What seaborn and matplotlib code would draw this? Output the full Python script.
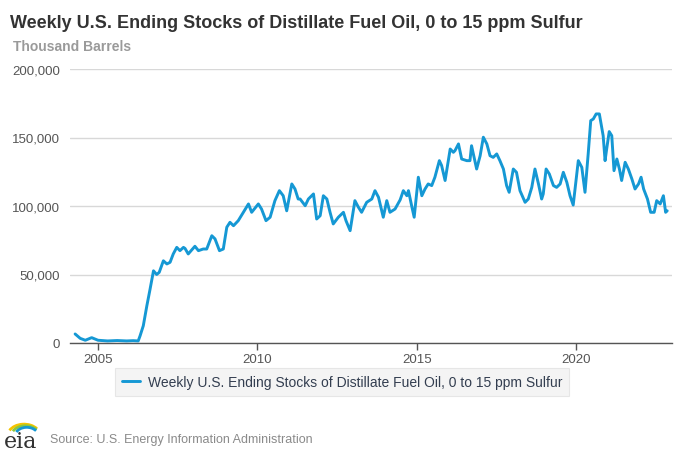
import numpy as np
import pandas as pd
import matplotlib
matplotlib.use("Agg")
import matplotlib.pyplot as plt
import seaborn as sns
from matplotlib.patches import Arc

# values (decimal year, thousand barrels)
years = [2004.28, 2004.44, 2004.60, 2004.80, 2005.00, 2005.30, 2005.60, 2005.90, 2006.10,
         2006.26, 2006.32, 2006.42, 2006.53, 2006.63, 2006.74, 2006.84, 2006.92,
         2007.05, 2007.16, 2007.26, 2007.36, 2007.47, 2007.57, 2007.68, 2007.73, 2007.83,
         2008.04, 2008.15, 2008.30, 2008.41, 2008.57, 2008.67, 2008.81, 2008.93,
         2009.04, 2009.14, 2009.25, 2009.40, 2009.56, 2009.72, 2009.82,
         2010.03, 2010.13, 2010.27, 2010.40, 2010.55, 2010.69, 2010.81, 2010.92,
         2011.08, 2011.18, 2011.28, 2011.34, 2011.50, 2011.60, 2011.76, 2011.86, 2011.97,
         2012.07, 2012.18, 2012.28, 2012.38, 2012.54, 2012.70, 2012.78, 2012.91,
         2013.06, 2013.17, 2013.27, 2013.43, 2013.59, 2013.69, 2013.80, 2013.95,
         2014.06, 2014.16, 2014.32, 2014.48, 2014.58, 2014.69, 2014.74, 2014.84, 2014.92,
         2015.05, 2015.16, 2015.26, 2015.36, 2015.47, 2015.57, 2015.71, 2015.78, 2015.89,
         2016.05, 2016.15, 2016.20, 2016.31, 2016.41, 2016.57, 2016.67, 2016.72, 2016.88, 2016.99,
         2017.09, 2017.20, 2017.30, 2017.40, 2017.51, 2017.61, 2017.72, 2017.82, 2017.90,
         2018.03, 2018.13, 2018.24, 2018.40, 2018.50, 2018.61, 2018.71, 2018.82, 2018.92, 2018.97,
         2019.06, 2019.16, 2019.29, 2019.39, 2019.50, 2019.60, 2019.71, 2019.81, 2019.91,
         2020.07, 2020.18, 2020.28, 2020.38, 2020.46, 2020.54, 2020.63, 2020.73, 2020.85,
         2020.91, 2020.96, 2021.04, 2021.12, 2021.19, 2021.28, 2021.36, 2021.43, 2021.54,
         2021.64, 2021.75, 2021.85, 2021.96, 2022.04, 2022.12, 2022.24, 2022.34, 2022.45,
         2022.53, 2022.64, 2022.74, 2022.81, 2022.86]
stocks = [6600, 3400, 2000, 3900, 2000, 1500, 1800, 1500, 1700,
          1500, 5300, 12600, 27000, 39000, 52700, 50000, 51600,
          60000, 57700, 58900, 65000, 69800, 67400, 69800, 69000, 65000,
          70600, 67400, 68600, 68600, 78300, 76000, 67400, 68600,
          84500, 88100, 85600, 89300, 95400, 101500, 95400,
          101500, 97800, 89300, 91800, 103900, 111200, 107500, 96500,
          116100, 112400, 105100, 105100, 100200, 105100, 108800, 90500, 92900,
          107500, 105100, 95400, 86900, 91800, 95400, 89300, 82000,
          103900, 99100, 95400, 102700, 105100, 111200, 106400, 91800,
          103900, 95400, 97800, 104500, 111200, 107500, 111200, 100200, 91800,
          121000, 107500, 112400, 116100, 114900, 121000, 133100, 129600, 118600,
          141600, 139200, 140400, 145300, 134300, 133100, 133100, 144000, 127000, 136700,
          150200, 145300, 136700, 135500, 138000, 133100, 127000, 114900, 110000,
          127000, 124600, 111200, 102700, 105100, 113600, 127000, 116100, 105100, 108800,
          127000, 123400, 114900, 113600, 116100, 124600, 117300, 107500, 100700,
          133100, 128200, 110000, 138000, 162300, 163500, 167200, 167200, 151300,
          133100, 141600, 154300, 151300, 125800, 134300, 127000, 118600, 131900,
          127000, 119800, 112400, 116100, 121000, 112400, 105100, 95400, 95400,
          103900, 101500, 107500, 95400, 96500]

yticks = [0, 50000, 100000, 150000, 200000]
xticks = [2005, 2010, 2015, 2020]

title = "Weekly U.S. Ending Stocks of Distillate Fuel Oil, 0 to 15 ppm Sulfur"
series_name = "Weekly U.S. Ending Stocks of Distillate Fuel Oil, 0 to 15 ppm Sulfur"
unit = "Thousand Barrels"
source = "Source: U.S. Energy Information Administration"

df = pd.DataFrame({"year": years, "stocks": stocks})

sns.set_theme(style="white")
plt.rcParams["font.family"] = ["Liberation Sans", "DejaVu Sans"]

fig = plt.figure(figsize=(6.84, 4.56), dpi=100)
ax = fig.add_axes([70 / 684, 1 - 344 / 456, 602 / 684, 274 / 456])

line_color = "#1598d4"
sns.lineplot(data=df, x="year", y="stocks", ax=ax, color=line_color, linewidth=2.1,
             label=series_name, legend=False)

ax.set_xlim(2004.12, 2023.01)
ax.set_ylim(0, 200000)
ax.set_yticks(yticks)
ax.set_yticklabels([f"{v:,}" for v in yticks])
ax.set_xticks(xticks)
ax.set_xticklabels([str(v) for v in xticks])
ax.set_xlabel("")
ax.set_ylabel("")

ax.grid(axis="y", color="#d8d8d8", linewidth=1.0)
ax.set_axisbelow(True)
for side in ["top", "right", "left"]:
    ax.spines[side].set_visible(False)
ax.spines["bottom"].set_color("#555555")
ax.spines["bottom"].set_linewidth(1.0)
ax.tick_params(axis="y", length=0, pad=7, labelsize=9.5, labelcolor="#555555")
ax.tick_params(axis="x", length=5, width=1, color="#555555", pad=2,
               labelsize=9.5, labelcolor="#555555", bottom=True)

# header
fig.text(10 / 684, 1 - 23 / 456, title, fontsize=13, fontweight="bold",
         color="#333333", va="center", ha="left")
fig.text(13 / 684, 1 - 47 / 456, unit, fontsize=10, fontweight="bold",
         color="#9a9a9a", va="center", ha="left")

# legend box
handles, labels = ax.get_legend_handles_labels()
leg = fig.legend(handles, labels, loc="center", bbox_to_anchor=(342 / 684, 1 - 383 / 456),
                 frameon=True, fontsize=10, handlelength=1.3, handletextpad=0.6,
                 borderpad=0.5, fancybox=False)
leg.get_frame().set_facecolor("#f2f2f2")
leg.get_frame().set_edgecolor("#e2e2e2")
leg.get_frame().set_linewidth(0.8)
for t in leg.get_texts():
    t.set_color("#333e50")

# eia logo and source
fig.text(4 / 684, 1 - 442 / 456, "eia", fontsize=16, family="DejaVu Serif",
         color="#333333", va="center", ha="left")
for i, c in enumerate(["#f5c400", "#8cc63f", "#1598d4"]):
    arc = Arc((24 / 684 + i * 0.002, 1 - 437 / 456), 0.048 - i * 0.007, 0.052 - i * 0.007,
              theta1=40, theta2=150, color=c, linewidth=2.0, transform=fig.transFigure)
    fig.add_artist(arc)
fig.text(50 / 684, 1 - 440 / 456, source, fontsize=9, color="#8a8a8a",
         va="center", ha="left")

fig.savefig("out.png", dpi=100)
